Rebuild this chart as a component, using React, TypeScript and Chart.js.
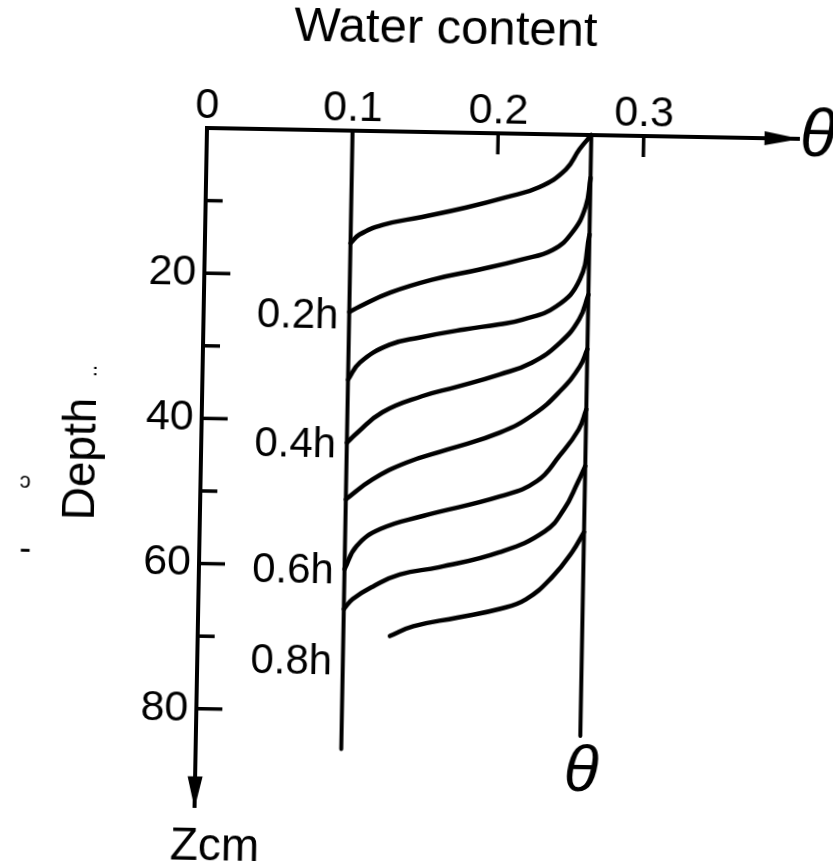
import React, { useEffect, useRef } from "react";
import { Chart, registerables } from "chart.js";

Chart.register(...registerables);

const FONT = '"Liberation Sans", Arial, sans-serif';
const INK = "#000000";

// ---- axes ----
const xTickValues = [0, 0.1, 0.2, 0.3];
const xTickLabels = ["0", "0.1", "0.2", "0.3"];
const yTickValues = [20, 40, 60, 80];
const yTickLabels = ["20", "40", "60", "80"];
const xTickMarks = [0.2, 0.3];
const yMajorTickMarks = [20, 40, 60, 80];
const yMinorTickMarks = [10, 30, 50, 70];
const thetaAxisEnd = 0.407;
const depthAxisEnd = 93.6;

// ---- reference lines (initial and saturated water content) ----
const initialTheta = 0.1;
const saturatedTheta = 0.264;
const initialLineDepths = [0, 85.2];
const saturatedLineDepths = [0, 82.8];

// ---- wetting profiles: water content (theta) vs depth (cm) ----
const thetaC1 = [0.264, 0.256, 0.247, 0.229, 0.206, 0.179, 0.149, 0.122, 0.106, 0.1];
const depthC1 = [0.0, 2.0, 4.8, 7.3, 8.8, 10.3, 11.7, 12.9, 14.3, 15.5];
const thetaC2 = [0.264, 0.261, 0.252, 0.239, 0.218, 0.189, 0.157, 0.128, 0.107, 0.1];
const depthC2 = [5.9, 9.9, 13.5, 15.9, 17.3, 18.8, 20.3, 22.2, 24.2, 25.0];
const thetaC3 = [0.264, 0.258, 0.242, 0.219, 0.203, 0.179, 0.149, 0.128, 0.108, 0.1];
const depthC3 = [13.7, 19.9, 23.7, 25.6, 26.3, 27.1, 28.3, 29.4, 31.9, 34.3];
const thetaC4 = [0.264, 0.258, 0.245, 0.226, 0.204, 0.175, 0.151, 0.124, 0.107, 0.1];
const depthC4 = [22.0, 25.4, 28.7, 31.5, 33.2, 35.0, 36.4, 38.7, 41.6, 43.0];
const thetaC5 = [0.264, 0.259, 0.246, 0.228, 0.205, 0.169, 0.141, 0.118, 0.1];
const depthC5 = [29.5, 31.9, 35.3, 38.6, 41.2, 43.7, 45.6, 48.0, 50.8];
const thetaC6 = [0.264, 0.259, 0.246, 0.231, 0.206, 0.153, 0.124, 0.108, 0.1];
const depthC6 = [37.8, 40.6, 44.3, 47.8, 50.0, 52.9, 54.8, 57.2, 60.4];
const thetaC7 = [0.264, 0.259, 0.25, 0.237, 0.206, 0.165, 0.138, 0.12, 0.106, 0.1];
const depthC7 = [45.6, 47.9, 51.6, 54.7, 57.7, 59.9, 61.0, 62.7, 64.5, 65.9];
const thetaC8 = [0.264, 0.256, 0.243, 0.225, 0.207, 0.178, 0.148, 0.132];
const depthC8 = [54.7, 57.5, 60.9, 64.1, 65.5, 66.8, 68.1, 69.5];

const profileThetas = [thetaC1, thetaC2, thetaC3, thetaC4, thetaC5, thetaC6, thetaC7, thetaC8];
const profileDepths = [depthC1, depthC2, depthC3, depthC4, depthC5, depthC6, depthC7, depthC8];

// ---- time labels ----
const timeLabels = ["0.2h", "0.4h", "0.6h", "0.8h"];
const timeLabelDepths = [25.7, 43.4, 60.8, 73.3];
const timeLabelTheta = 0.0927;

const toPoints = (xs: number[], ys: number[]) => xs.map((x, i) => ({ x, y: ys[i] }));

const annotations = {
  id: "annotations",
  afterDraw(chart: any) {
    const { ctx } = chart;
    const xs = chart.scales.x;
    const ys = chart.scales.y;
    const px = (v: number) => xs.getPixelForValue(v);
    const py = (v: number) => ys.getPixelForValue(v);
    const x0 = px(0);
    const y0 = py(0);
    ctx.save();
    ctx.strokeStyle = INK;
    ctx.fillStyle = INK;
    ctx.lineWidth = 3.5;
    const seg = (a: number, b: number, c: number, d: number) => {
      ctx.beginPath();
      ctx.moveTo(a, b);
      ctx.lineTo(c, d);
      ctx.stroke();
    };
    // tick marks pointing into the plot
    yMajorTickMarks.forEach((z) => seg(x0, py(z), x0 + 26, py(z)));
    yMinorTickMarks.forEach((z) => seg(x0, py(z), x0 + 17, py(z)));
    xTickMarks.forEach((t) => seg(px(t), y0, px(t), y0 + 21));

    // arrowheads
    const xt = px(thetaAxisEnd);
    ctx.beginPath();
    ctx.moveTo(xt + 1, y0);
    ctx.lineTo(xt - 35, y0 - 7);
    ctx.lineTo(xt - 35, y0 + 7);
    ctx.closePath();
    ctx.fill();
    const yt = py(depthAxisEnd);
    ctx.beginPath();
    ctx.moveTo(x0, yt + 1);
    ctx.lineTo(x0 - 7.5, yt - 31);
    ctx.lineTo(x0 + 7.5, yt - 31);
    ctx.closePath();
    ctx.fill();

    // time labels
    ctx.font = `42px ${FONT}`;
    ctx.textAlign = "right";
    ctx.textBaseline = "middle";
    timeLabels.forEach((t, i) => ctx.fillText(t, px(timeLabelTheta), py(timeLabelDepths[i])));

    // theta symbols
    ctx.textAlign = "center";
    ctx.font = `italic 66px ${FONT}`;
    ctx.fillText("θ", px(0.4196), py(-0.22));
    ctx.font = `italic 64px ${FONT}`;
    ctx.fillText("θ", px(0.265), py(87.9));

    // depth unit
    ctx.font = `46px ${FONT}`;
    ctx.textBaseline = "alphabetic";
    ctx.fillText("Zcm", px(0.0142), py(100.8));

    // vertical axis title
    ctx.save();
    ctx.translate(px(-0.0727), py(45.9));
    ctx.rotate(-Math.PI / 2);
    ctx.font = `46px ${FONT}`;
    ctx.textAlign = "center";
    ctx.fillText("Depth", 0, 0);
    ctx.font = `22px ${FONT}`;
    ctx.textAlign = "left";
    ctx.fillText("..", 82, 0);
    ctx.restore();

    // small marks left of the title
    ctx.textBaseline = "middle";
    ctx.font = `22px ${FONT}`;
    ctx.fillText("ɔ", px(-0.1204), py(49.1));
    ctx.font = `36px ${FONT}`;
    ctx.fillText("-", px(-0.1195), py(58.6));
    ctx.restore();
  },
};

export default function App() {
  const ref = useRef<HTMLCanvasElement | null>(null);

  useEffect(() => {
    if (!ref.current) return;
    const curveSets = profileThetas.map((th, i) => ({
      data: toPoints(th, profileDepths[i]),
      borderColor: INK,
      borderWidth: 4.5,
      pointRadius: 0,
      fill: false,
      tension: 0.45,
      borderCapStyle: "round",
      borderJoinStyle: "round",
      clip: false,
    }));
    const refSets = [
      { data: toPoints([initialTheta, initialTheta], initialLineDepths) },
      { data: toPoints([saturatedTheta, saturatedTheta], saturatedLineDepths) },
    ].map((d) => ({
      ...d,
      borderColor: INK,
      borderWidth: 4,
      pointRadius: 0,
      fill: false,
      borderCapStyle: "round",
      clip: false,
    }));

    const chart = new Chart(ref.current, {
      type: "line",
      data: { datasets: [...refSets, ...curveSets] as any },
      options: {
        animation: false,
        responsive: false,
        devicePixelRatio: 1,
        events: [],
        layout: { padding: { left: 88.4, right: 33.4, top: 0, bottom: 57.5 } },
        plugins: {
          legend: { display: false },
          tooltip: { enabled: false },
          title: {
            display: true,
            text: "Water content",
            color: INK,
            font: { family: FONT, size: 49, weight: "normal", lineHeight: 1.0 },
            padding: { top: 1.1, bottom: 0 },
          },
        },
        scales: {
          x: {
            type: "linear",
            position: "top",
            min: 0,
            max: thetaAxisEnd,
            grid: { display: false, drawTicks: false },
            border: { display: true, color: INK, width: 4 },
            afterBuildTicks: (s: any) => {
              s.ticks = xTickValues.map((v) => ({ value: v }));
            },
            afterFit: (s: any) => {
              s.height = 128 - 50.1;
            },
            ticks: {
              color: INK,
              padding: 0,
              autoSkip: false,
              maxRotation: 0,
              minRotation: 0,
              font: { family: FONT, size: 43, lineHeight: 1.0 },
              callback: (v: any) => {
                const i = xTickValues.findIndex((t) => Math.abs(t - Number(v)) < 1e-9);
                return i >= 0 ? xTickLabels[i] : "";
              },
            },
          },
          y: {
            type: "linear",
            position: "left",
            reverse: true,
            min: 0,
            max: depthAxisEnd,
            grid: { display: false, drawTicks: false },
            border: { display: true, color: INK, width: 4 },
            afterBuildTicks: (s: any) => {
              s.ticks = yTickValues.map((v) => ({ value: v }));
            },
            afterFit: (s: any) => {
              s.width = 207 - 88.4;
            },
            ticks: {
              color: INK,
              padding: 8,
              autoSkip: false,
              font: { family: FONT, size: 43, lineHeight: 1.0 },
              callback: (v: any) => {
                const i = yTickValues.findIndex((t) => Math.abs(t - Number(v)) < 1e-9);
                return i >= 0 ? yTickLabels[i] : "";
              },
            },
          },
        },
      } as any,
      plugins: [annotations],
    });
    return () => chart.destroy();
  }, []);

  return (
    <div
      style={{
        position: "absolute",
        left: 0,
        top: 0,
        width: 833,
        height: 865,
        overflow: "hidden",
        background: "#ffffff",
      }}
    >
      <canvas
        ref={ref}
        width={833}
        height={865}
        style={{
          display: "block",
          width: 833,
          height: 865,
          transform: "rotate(1.05deg)",
          transformOrigin: "207px 128px",
        }}
      />
    </div>
  );
}
